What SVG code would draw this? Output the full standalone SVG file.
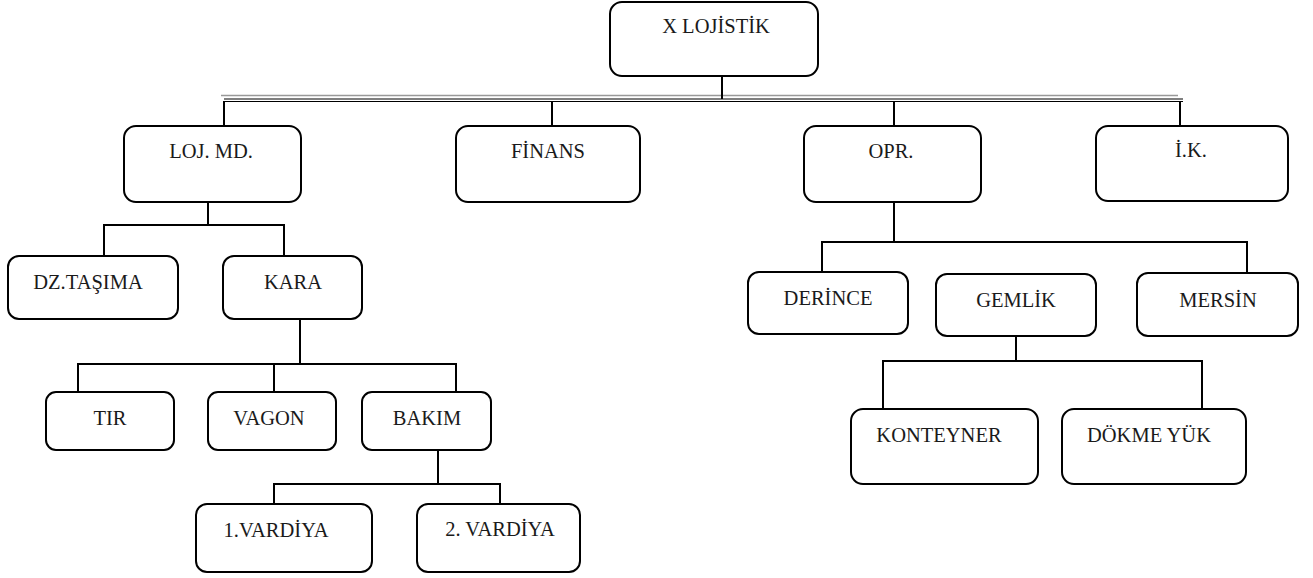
<svg xmlns="http://www.w3.org/2000/svg" width="1313" height="578" viewBox="0 0 1313 578">
<style>
.box{fill:#fff;stroke:#000;stroke-width:2}
.lbl{font-family:'Liberation Serif',serif;font-size:20.5px;fill:#1a1a1a;text-anchor:middle}
.con{stroke:#000;stroke-width:2;fill:none}
</style>
<rect width="1313" height="578" fill="#fff"/>
<g id="connectors">
<line x1="221" y1="95.5" x2="1178" y2="95.5" stroke="#999" stroke-width="1.6"/>
<line x1="224" y1="99" x2="1183" y2="99" stroke="#000" stroke-width="1.2"/>
<line x1="224" y1="101.5" x2="1183" y2="101.5" stroke="#000" stroke-width="1.2"/>
<path class="con" d="M722 76V99"/>
<path class="con" d="M224 101V126M552 101V126M894 101V126M1180 101V126"/>
<path class="con" d="M208 202V225M104 225H284M104 224V256M284 224V256"/>
<path class="con" d="M300 319V364M78 364H456M78 363V392M274 363V392M456 363V392"/>
<path class="con" d="M438 450V484M274 484H500M274 483V504M500 483V504"/>
<path class="con" d="M894 202V242M822 242H1247M822 241V272M1247 241V273"/>
<path class="con" d="M1016 336V361M883 361H1202M883 360V409M1202 360V409"/>
</g>
<g id="n-xlojistik"><rect class="box" x="610" y="2" width="208" height="74" rx="12"/><text class="lbl" x="716" y="33">X LOJİSTİK</text></g>
<g id="n-lojmd"><rect class="box" x="124" y="126" width="177" height="76" rx="12"/><text class="lbl" x="211" y="158">LOJ. MD.</text></g>
<g id="n-finans"><rect class="box" x="456" y="126" width="184" height="76" rx="12"/><text class="lbl" x="548" y="158">FİNANS</text></g>
<g id="n-opr"><rect class="box" x="804" y="126" width="177" height="76" rx="12"/><text class="lbl" x="891" y="158">OPR.</text></g>
<g id="n-ik"><rect class="box" x="1096" y="126" width="192" height="75" rx="12"/><text class="lbl" x="1191" y="157">İ.K.</text></g>
<g id="n-dztasima"><rect class="box" x="8" y="256" width="170" height="63" rx="11"/><text class="lbl" x="88" y="289">DZ.TAŞIMA</text></g>
<g id="n-kara"><rect class="box" x="223" y="256" width="139" height="63" rx="11"/><text class="lbl" x="293" y="289">KARA</text></g>
<g id="n-tir"><rect class="box" x="46" y="392" width="128" height="58" rx="10"/><text class="lbl" x="110" y="425">TIR</text></g>
<g id="n-vagon"><rect class="box" x="208" y="392" width="128" height="58" rx="10"/><text class="lbl" x="269" y="425">VAGON</text></g>
<g id="n-bakim"><rect class="box" x="362" y="392" width="129" height="58" rx="10"/><text class="lbl" x="427" y="425">BAKIM</text></g>
<g id="n-vardiya1"><rect class="box" x="196" y="504" width="176" height="68" rx="11"/><text class="lbl" x="276" y="537">1.VARDİYA</text></g>
<g id="n-vardiya2"><rect class="box" x="417" y="504" width="163" height="68" rx="11"/><text class="lbl" x="500" y="536">2. VARDİYA</text></g>
<g id="n-derince"><rect class="box" x="748" y="272" width="160" height="62" rx="11"/><text class="lbl" x="828" y="305">DERİNCE</text></g>
<g id="n-gemlik"><rect class="box" x="936" y="274" width="160" height="62" rx="11"/><text class="lbl" x="1016" y="307">GEMLİK</text></g>
<g id="n-mersin"><rect class="box" x="1137" y="273" width="161" height="63" rx="11"/><text class="lbl" x="1218" y="307">MERSİN</text></g>
<g id="n-konteyner"><rect class="box" x="851" y="409" width="187" height="75" rx="12"/><text class="lbl" x="939" y="442">KONTEYNER</text></g>
<g id="n-dokmeyuk"><rect class="box" x="1062" y="409" width="184" height="75" rx="12"/><text class="lbl" x="1149" y="442">DÖKME YÜK</text></g>
</svg>
